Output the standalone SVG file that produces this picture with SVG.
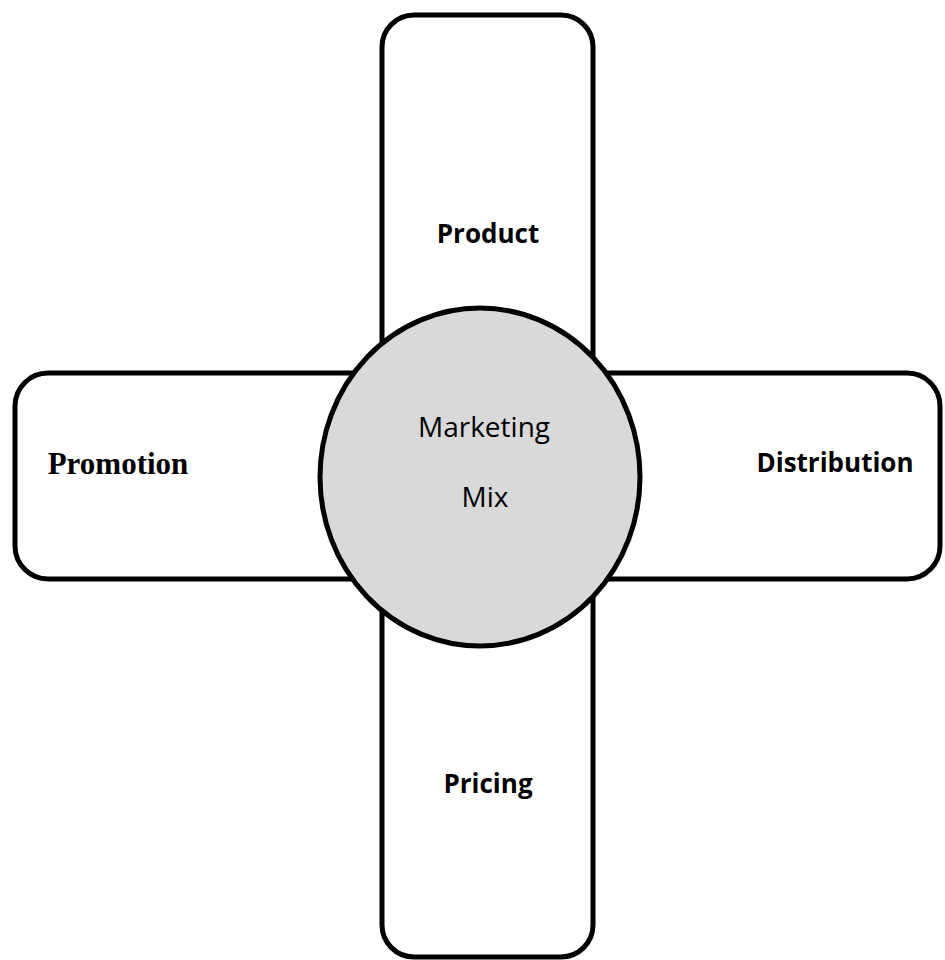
<svg xmlns="http://www.w3.org/2000/svg" width="945" height="960" viewBox="0 0 945 960">
<style>
.box{fill:#ffffff;stroke:#000000;stroke-width:5}
.hub{fill:#d9d9d9;stroke:#000000;stroke-width:5}
.lbl{font-family:"Open Sans","Noto Sans",sans-serif;font-weight:bold;font-size:26px;fill:#000;text-anchor:middle}
.ser{font-family:"Liberation Serif","DejaVu Serif",serif;font-weight:bold;font-size:31px;fill:#000;text-anchor:middle}
.hubt{font-family:"Open Sans","Noto Sans",sans-serif;font-size:28px;fill:#000;text-anchor:middle}
</style>
<rect width="945" height="960" fill="#ffffff"/>
<g id="connectors"></g>
<g id="product">
<rect class="box" x="382" y="15" width="211" height="942" rx="32" ry="32"/>
<text class="lbl" x="488" y="243">Product</text>
</g>
<g id="promotion">
<rect class="box" x="15" y="373" width="925" height="206" rx="33" ry="33"/>
<text class="ser" x="118" y="474">Promotion</text>
</g>
<g id="distribution">
<text class="lbl" x="835" y="472">Distribution</text>
</g>
<g id="pricing">
<text class="lbl" x="488" y="793">Pricing</text>
</g>
<g id="marketing-mix">
<ellipse class="hub" cx="480" cy="477" rx="160" ry="169"/>
<text class="hubt" x="484" y="437">Marketing</text>
<text class="hubt" x="485" y="507">Mix</text>
</g>
</svg>
